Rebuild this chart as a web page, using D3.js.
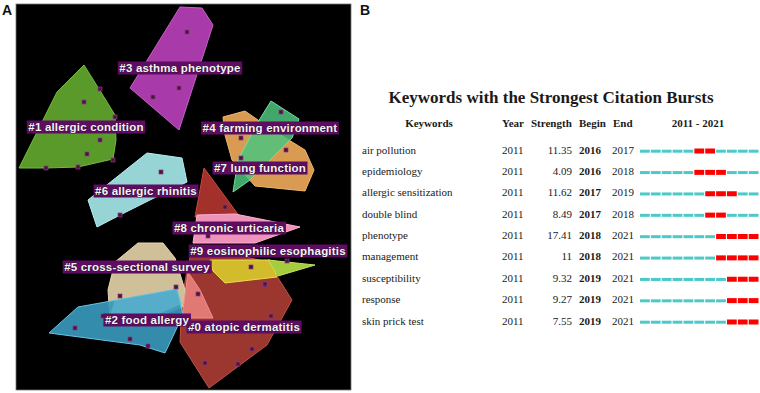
<!DOCTYPE html>
<html><head><meta charset="utf-8">
<script src="https://cdn.jsdelivr.net/npm/d3@7"></script>
<style>body{margin:0;background:#fff}svg{display:block}</style>
</head><body>
<svg id="c" width="760" height="393"></svg>
<script>
// ---------- Panel A: cluster map (layout coordinates) ----------
const clusterIds = ["#0","#1","#2","#3","#4","#5","#6","#7","#8","#9"];
const clusterNames = ["atopic dermatitis","allergic condition","food allergy","asthma phenotype","farming environment","cross-sectional survey","allergic rhinitis","lung function","chronic urticaria","eosinophilic esophagitis"];
const hull0 = [[177,241],[252,258],[276,296],[251,341],[193,384],[164,338],[166,296],[171,266]];
const hull0b = [[188,164],[224,213],[179,213]];
const hull0c = [[172,268],[184,286],[197,314],[166,314]];
const hull1 = [[68,61],[83,85],[99,111],[100,136],[97,155],[62,163],[30,164],[3,164],[41,88]];
const hull2 = [[33,329],[62,303],[161,285],[167,311],[149,349],[124,341]];
const hull3 = [[164,3],[186,4],[197,21],[163,126],[114,84]];
const hull4 = [[207,113],[229,107],[252,123],[289,146],[298,166],[289,187],[239,182],[216,156],[209,131]];
const hull5 = [[122,239],[147,239],[159,254],[169,286],[171,301],[134,316],[94,316],[92,286],[99,258]];
const hull6 = [[131,149],[166,154],[171,178],[144,191],[104,211],[81,223],[72,196]];
const hull7 = [[255,97],[283,115],[276,134],[234,176],[217,188],[222,156],[242,118]];
const hull8 = [[181,211],[219,210],[284,223],[239,239],[177,239]];
const hull9 = [[194,256],[254,256],[261,273],[209,279],[197,267]];
const hull9b = [[252,256],[299,261],[262,272]];
const labelX = [228,70,131,164,254,121,130,244,213,252];
const labelY = [323,123,316,64,124,263,187,164,224,247];
const nodeX = [171,163,137,68,84,99,84,71,97,30,62,145,104,225,265,270,225,209,192,235,271,249,182,160,104,59,114,132,87,189,222,236,255,249];
const nodeY = [28,84,93,98,85,113,136,150,156,164,163,168,211,134,108,146,154,203,232,263,257,281,290,283,292,324,335,342,312,359,360,345,312,280];

// ---------- Panel B: burst table ----------
const keywords = ["air pollution","epidemiology","allergic sensitization","double blind","phenotype","management","susceptibility","response","skin prick test"];
const kwYear = [2011,2011,2011,2011,2011,2011,2011,2011,2011];
const strength = ["11.35","4.09","11.62","8.49","17.41","11","9.32","9.27","7.55"];
const beginYear = [2016,2016,2017,2017,2018,2018,2019,2019,2019];
const endYear = [2017,2018,2019,2018,2021,2021,2021,2021,2021];
const years = [2011,2012,2013,2014,2015,2016,2017,2018,2019,2020,2021];

const svg = d3.select("#c");

// Panel letters
svg.append("text").attr("x",2).attr("y",15).text("A")
  .attr("font-family","Liberation Sans, Arial").attr("font-weight","bold").attr("font-size",14).attr("fill","#111");
svg.append("text").attr("x",360).attr("y",15).text("B")
  .attr("font-family","Liberation Sans, Arial").attr("font-weight","bold").attr("font-size",14).attr("fill","#111");

// Panel A
const ax = d3.scaleLinear().domain([0,335]).range([16,351]);
const ay = d3.scaleLinear().domain([0,386]).range([4,390]);
svg.append("rect").attr("x",ax(0)).attr("y",ay(0)).attr("width",ax(335)-ax(0)).attr("height",ay(386)-ay(0))
  .attr("fill","#000").attr("stroke","#777").attr("stroke-width",0.8);
const gA = svg.append("g");
const line = d3.line().x(d=>ax(d[0])).y(d=>ay(d[1])).curve(d3.curveLinearClosed);

const hulls = [
  {pts:hull3, fill:"#a93aa9", stroke:"#c860c8"},
  {pts:hull1, fill:"#5a9a2a", stroke:"#78b840"},
  {pts:hull4, fill:"#d99a52", stroke:"#f0b868"},
  {pts:hull7, fill:"#4cc47e", stroke:"#70e0a0", op:0.85},
  {pts:hull6, fill:"#96d4d6", stroke:"#b8ecec"},
  {pts:hull0, fill:"#9c372f", stroke:"#c0504a"},
  {pts:hull0b, fill:"#a3302a", stroke:"#c84a40"},
  {pts:hull5, fill:"#cfc09a", stroke:"#e4d8b4"},
  {pts:hull0c, fill:"#e07874", stroke:"#f09090"},
  {pts:hull2, fill:"#3898bc", stroke:"#68c4e0", op:0.92},
  {pts:hull8, fill:"#ee92ba", stroke:"#ffb0d0"},
  {pts:hull9, fill:"#d2bc2c", stroke:"#eed850"},
  {pts:hull9b, fill:"#a4cc3c", stroke:"#c0e060"}
];
gA.selectAll("path.h").data(hulls).join("path").attr("class","h")
  .attr("d",d=>line(d.pts)).attr("fill",d=>d.fill).attr("fill-opacity",d=>d.op||1)
  .attr("stroke",d=>d.stroke).attr("stroke-width",1);

// overlap highlight of food allergy on survey
gA.append("path").attr("d",line([[99,296],[161,285],[166,300],[140,311],[94,311]]))
  .attr("fill","#64bcd8").attr("fill-opacity",0.55);

// nodes
gA.selectAll("rect.n").data(nodeX.map((x,i)=>[x,nodeY[i]])).join("rect").attr("class","n")
  .attr("x",d=>ax(d[0])-2).attr("y",d=>ay(d[1])-2).attr("width",4).attr("height",4)
  .attr("fill","#4a1440").attr("stroke","#8a3a80").attr("stroke-width",0.7);

// labels
const lab = gA.selectAll("g.l").data(clusterIds.map((id,i)=>({t:id+" "+clusterNames[i],x:labelX[i],y:labelY[i]}))).join("g").attr("class","l");
lab.each(function(d){
  const g = d3.select(this);
  const r = g.append("rect").attr("fill","#5e0d62");
  const t = g.append("text").attr("x",ax(d.x)).attr("y",ay(d.y)).attr("text-anchor","middle")
    .attr("dominant-baseline","central").attr("font-family","Liberation Sans, Arial").attr("font-weight","bold")
    .attr("font-size",11.5).attr("fill","#f4f4f4").attr("stroke","#1a0a1a").attr("stroke-width",0.6)
    .attr("paint-order","stroke").attr("letter-spacing",0.2).text(d.t);
  const b = t.node().getBBox();
  r.attr("x",b.x-1.5).attr("y",ay(d.y)-6.5).attr("width",b.width+3).attr("height",13);
});

// Panel B
const serif = "Liberation Serif, Times New Roman, serif";
const tc = "#1a1a1a";
svg.append("text").attr("x",551).attr("y",103).attr("text-anchor","middle")
  .attr("font-family",serif).attr("font-weight","bold").attr("font-size",17).attr("fill",tc)
  .text("Keywords with the Strongest Citation Bursts");

const headY = 127;
const hdr = [
  {t:"Keywords",x:429,a:"middle"},{t:"Year",x:502,a:"start"},{t:"Strength",x:531,a:"start"},
  {t:"Begin",x:579,a:"start"},{t:"End",x:613,a:"start"},{t:"2011 - 2021",x:698,a:"middle"}];
svg.selectAll("text.hd").data(hdr).join("text").attr("class","hd")
  .attr("x",d=>d.x).attr("y",headY).attr("text-anchor",d=>d.a)
  .attr("font-family",serif).attr("font-weight","bold").attr("font-size",11).attr("fill",tc).text(d=>d.t);

const ry = d3.scalePoint().domain(keywords).range([149.5,320.5]);
const bx = d3.scaleBand().domain(years).range([640,758.5]).paddingInner(0.1);

const rows = svg.selectAll("g.row").data(keywords.map((k,i)=>({k,i}))).join("g").attr("class","row")
  .attr("transform",d=>`translate(0,${ry(d.k)})`);
const tx = (sel)=>sel.attr("font-family",serif).attr("font-size",11).attr("fill",tc).attr("dominant-baseline","central");
rows.append("text").attr("x",362).text(d=>d.k).call(tx);
rows.append("text").attr("x",502).text(d=>kwYear[d.i]).call(tx);
rows.append("text").attr("x",572).attr("text-anchor","end").text(d=>strength[d.i]).call(tx);
rows.append("text").attr("x",579).attr("font-weight","bold").text(d=>beginYear[d.i]).call(tx);
rows.append("text").attr("x",612).text(d=>endYear[d.i]).call(tx);

rows.each(function(d){
  const g = d3.select(this);
  const segs = years.map(y=>({y, hot: y>=beginYear[d.i] && y<=endYear[d.i]}));
  g.selectAll("rect").data(segs).join("rect")
    .attr("x",s=>bx(s.y)).attr("width",bx.bandwidth())
    .attr("y",s=>s.hot?-1:0.2).attr("height",s=>s.hot?5:3)
    .attr("fill",s=>s.hot?"#ff0000":"#4cc9c9");
});
</script>
</body></html>
